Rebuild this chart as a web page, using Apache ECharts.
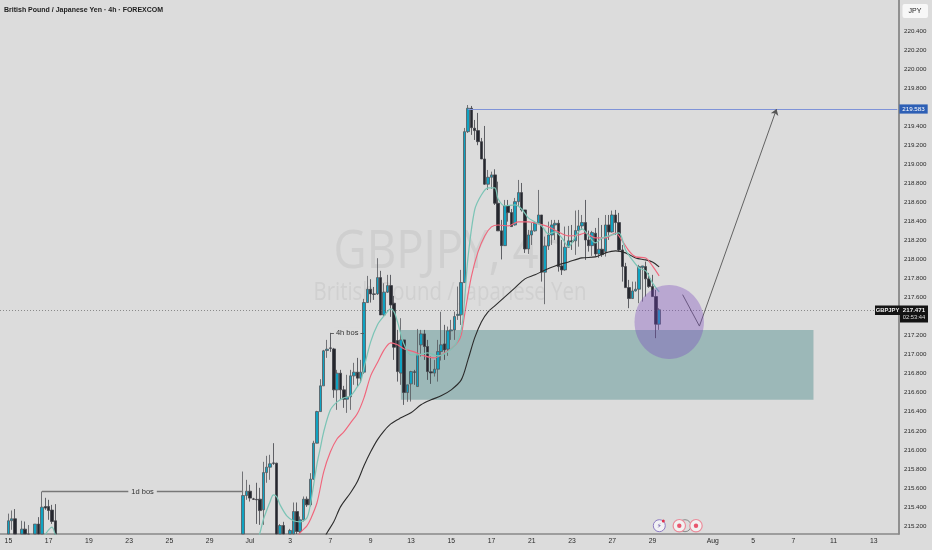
<!DOCTYPE html>
<html><head><meta charset="utf-8">
<style>html,body{margin:0;padding:0;background:#dcdcdc}#c{width:932px;height:550px}</style>
<script src="https://cdn.jsdelivr.net/npm/echarts@6/dist/echarts.min.js"></script>
</head><body><div id="c"></div>
<script>
const hidden = Array(55).fill(null); // bars 15-69 sit below the visible price range
const opens = [215.055,215.255,215.276,null,215.055,215.167,215.09,null,215.055,215.22,215.055,215.405,215.405,215.367,215.255,...hidden,
215.055,215.52,215.566,215.485,215.48,215.482,215.37,215.761,215.818,215.863,
215.86,215.055,215.205,null,215.055,215.055,215.352,215.142,215.265,215.482,
215.422,215.692,216.07,216.402,216.672,217.043,217.071,217.06,216.63,216.805,
216.63,216.532,216.557,216.777,216.816,216.753,216.816,217.547,217.687,217.638,
217.638,217.809,217.417,217.656,217.725,217.54,217.148,216.806,217.155,216.602,
216.693,216.819,216.665,217.103,217.218,217.085,216.819,216.806,216.847,217.032,
217.113,217.057,217.25,217.26,217.412,217.418,217.757,219.342,219.588,219.378,
219.353,219.237,219.055,218.79,218.863,218.888,218.59,218.3,218.145,218.562,
218.492,218.362,218.607,218.702,218.52,218.11,218.257,218.3,218.38,218.467,
217.866,218.142,218.257,218.362,218.38,217.932,217.89,218.128,218.195,218.195,
218.303,218.352,218.387,218.205,218.145,218.275,218.058,218.107,218.082,218.362,
218.289,218.467,218.387,218.1,217.925,217.704,217.589,217.669,217.687,217.916,
217.925,217.796,217.715,217.61,217.32];
const closes = [215.255,215.276,215.055,null,215.167,215.055,215.08,null,215.22,215.055,215.398,215.388,215.363,215.247,215.055,...hidden,
215.52,215.566,215.493,215.48,215.475,215.362,215.761,215.818,215.853,215.858,
215.055,215.205,215.055,null,215.153,215.352,215.142,215.265,215.482,215.422,
215.692,216.07,216.402,216.672,217.04,217.057,217.066,216.63,216.805,216.63,
216.532,216.553,216.777,216.816,216.753,216.816,217.547,217.687,217.638,217.633,
217.809,217.417,217.656,217.725,217.522,217.078,216.822,217.155,216.602,216.683,
216.822,216.814,216.998,217.218,217.085,216.822,216.808,216.847,217.032,217.103,
217.05,217.25,217.26,217.4,217.423,217.757,219.342,219.588,219.384,219.353,
219.237,219.055,218.79,218.863,218.888,218.59,218.3,218.145,218.562,218.492,
218.345,218.607,218.702,218.52,218.11,218.257,218.3,218.38,218.467,217.866,
218.142,218.257,218.362,218.38,217.925,217.89,218.128,218.195,218.184,218.303,
218.352,218.387,218.205,218.145,218.282,218.058,218.107,218.05,218.362,218.289,
218.467,218.387,218.1,217.925,217.704,217.589,217.669,217.687,217.925,217.932,
217.796,217.715,217.61,217.32,217.471];
const lows = [215.05,215.16,215.05,null,215.05,215.05,215.05,null,215.05,215.05,215.05,215.37,215.265,215.222,215.05,...hidden,
215.05,215.475,215.457,215.475,215.222,215.212,215.212,215.654,215.685,215.842,
215.05,215.05,215.05,null,215.05,215.05,215.05,215.086,215.247,215.4,
215.405,215.685,216.073,216.402,216.672,216.966,217.029,216.546,216.42,216.525,
216.441,216.388,216.42,216.683,216.662,216.704,216.798,217.544,217.547,217.575,
217.627,217.417,217.4,217.648,217.397,216.945,216.717,216.683,216.472,216.504,
216.507,216.683,216.665,216.98,216.945,216.735,216.693,216.77,216.717,216.938,
216.945,216.987,217.155,217.155,217.365,217.312,217.754,219.328,219.308,219.255,
219.2,219.055,218.783,218.73,218.741,218.572,218.3,218,218.142,218.397,
218.342,218.355,218.555,218.502,218.068,218.058,218.152,218.292,218.38,217.767,
217.53,218.1,218.152,218.205,217.872,217.837,217.88,218.12,218.1,218.048,
218.134,218.31,217.995,218.082,218.037,218.03,218.016,218.027,218.03,218.205,
218.282,218.257,218.082,217.767,217.701,217.488,217.586,217.662,217.54,217.557,
217.61,217.701,217.606,217.173,217.26];
const highs = [215.33,215.363,215.378,null,215.255,215.247,215.21,null,215.22,215.293,215.562,215.496,215.475,215.422,215.43,...hidden,
215.772,215.685,215.633,215.496,215.654,215.601,215.874,215.937,215.948,216.07,
215.864,215.22,215.244,null,215.17,215.447,215.447,215.3,215.51,215.51,
215.755,216.095,216.41,216.742,217.05,217.155,217.229,217.071,216.84,216.84,
216.672,216.788,216.84,216.914,216.966,216.945,217.586,217.827,217.792,217.711,
218.013,217.88,217.75,217.838,217.838,217.617,217.26,217.383,217.155,216.683,
216.83,216.84,217.27,217.26,217.26,217.155,216.98,216.945,217.155,217.45,
217.313,217.295,217.365,217.452,217.715,217.89,219.381,219.622,219.612,219.465,
219.539,219.276,219.402,218.94,218.922,218.947,218.817,218.415,218.625,218.625,
218.53,218.646,218.835,218.803,218.52,218.31,218.384,218.397,218.73,218.467,
218.24,218.397,218.415,218.415,218.415,218.205,218.345,218.352,218.362,218.513,
218.52,218.467,218.625,218.303,218.3,218.331,218.436,218.362,218.467,218.467,
218.513,218.52,218.489,218.152,217.964,217.785,217.767,217.767,217.943,217.932,
217.977,217.858,217.838,217.68,217.488];

const fastBars = [10,11,12,13,14,15,74,75,76,78,79,80,81,83,85,87,89,90,91,92,93,94,96,98,100,102,104,105,106,108,110,112,114,115,116,118,120,122,125,128,130,133,135,136,137,139,141,143,145,146,148,151,153,155,157,159,161,163,165,167,169,171,173,175,177,180,182,184,186,188,190,192,194];
const fastVals = [215.055,215.11,215.16,215.187,215.11,215.055,215.055,215.129,215.265,215.454,215.527,215.507,215.422,215.307,215.255,215.244,215.286,215.422,215.632,215.853,216.021,216.189,216.42,216.504,216.546,216.567,216.662,216.714,216.861,217.134,217.312,217.407,217.48,217.449,217.344,217.103,216.998,216.998,217.018,216.987,217.008,217.092,217.26,217.575,218.016,218.52,218.677,218.751,218.751,218.635,218.562,218.572,218.53,218.436,218.394,218.352,218.268,218.289,218.226,218.132,218.237,218.321,218.247,218.174,218.226,218.257,218.278,218.1,217.995,217.911,217.88,217.754,217.659];
const midBars = [86,87,89,90,92,94,96,98,100,102,104,106,108,110,112,114,116,118,121,124,127,130,132,134,135,136,138,140,142,144,146,149,152,155,158,161,164,167,170,172,175,178,181,183,185,187,190,192,194];
const midVals = [215.055,215.129,215.202,215.265,215.444,215.769,215.979,216.116,216.189,216.284,216.378,216.546,216.777,216.914,217.05,217.124,217.103,217.06,217.029,216.987,216.966,217.018,217.06,217.134,217.208,217.418,217.817,218.079,218.247,218.342,218.362,218.352,218.394,218.394,218.373,218.342,218.289,218.247,218.257,218.278,218.226,218.226,218.278,218.195,218.09,218.027,218.016,217.932,217.827];
const slowBars = [94,95,97,99,102,104,106,108,110,112,114,117,120,123,126,129,132,135,137,139,141,143,145,148,151,154,157,160,163,167,171,175,178,181,184,187,190,192,194];
const slowVals = [215.055,215.129,215.244,215.401,215.549,215.664,215.832,215.979,216.105,216.2,216.273,216.336,216.389,216.473,216.525,216.567,216.63,216.735,216.945,217.176,217.344,217.449,217.512,217.606,217.701,217.796,217.838,217.89,217.932,217.974,218.016,218.027,218.069,218.09,218.069,218.016,217.995,217.974,217.921];

const tickBars = [0,12,24,36,48,60,72,84,96,108,120,132,144,156,168,180,192,210,222,234,246,258];
const tickLabels = ['15','17','19','23','25','29','Jul','3','7','9','13','15','17','21','23','27','29','Aug','5','7','11','13'];
const priceTicks = [215.2,215.4,215.6,215.8,216,216.2,216.4,216.6,216.8,217,217.2,217.4,217.6,217.8,218,218.2,218.4,218.6,218.8,219,219.2,219.4,219.8,220,220.2,220.4];

const axisMin = 215.116, axisMax = 220.725;
const lastPrice = 217.471, targetPrice = 219.58;
const zoneTop = 217.26, zoneBottom = 216.525, zoneBars = [117, 240];
const dayBos = {price: 215.562, bars: [10, 70], text: '1d bos'};
const hourBos = {price: 217.229, bars: [96, 106], text: '4h bos'};
const pathBars = [201, 206, 229], pathPrices = [217.63, 217.30, 219.58];
const circleBar = 197, circlePrice = 217.344;

const pad = 2, barCount = 268;
const categories = Array.from({length: barCount}, (_, i) => String(i));
const FONT = '"Liberation Sans", Arial, sans-serif';
const BG = '#dcdcdc';
const atAxis = v => Math.max(v, axisMin);
const candleData = Array.from({length: barCount}, (_, k) => {
  const i = k - pad;
  if (i < 0 || i >= opens.length || opens[i] === null) return ['-','-','-','-'];
  return [atAxis(opens[i]), atAxis(closes[i]), atAxis(lows[i]), atAxis(highs[i])];
});
const zip = (b, v) => b.map((x, i) => [x + pad, v[i]]);
const ma = (name, b, v, color, w) => ({type:'line', name, data: zip(b, v), showSymbol:false, smooth:0.3, connectNulls:true, silent:true,
  lineStyle:{color, width:w}, z:3, clip:true});
// one helper series per drawn line, so each keeps its own stroke
const drawn = (name, a, b, lineStyle, label, endExtra) => ({type:'line', name, data:[], silent:true, z:4,
  markLine:{silent:true, animation:false, symbol:'none', z:4, lineStyle, label: label || {show:false},
    data:[[{coord:a, symbol:'none'}, Object.assign({coord:b, symbol:'none'}, endExtra || {})]]}});

const option = {
  animation:false, backgroundColor:BG,
  textStyle:{fontFamily:FONT},
  title:{text:'British Pound / Japanese Yen · 4h · FOREXCOM', left:4, top:7, padding:0, textStyle:{fontFamily:FONT, fontSize:7, fontWeight:'bold', color:'#222'}},
  grid:{left:0, right:33, top:0, bottom:16, containLabel:false},
  xAxis:{type:'category', data:categories, boundaryGap:true,
    axisLine:{lineStyle:{color:'#888', width:1.5}}, axisTick:{show:false}, splitLine:{show:false},
    axisLabel:{show:true, margin:4, fontSize:6.8, color:'#2a2a2a', fontFamily:FONT, hideOverlap:false,
      interval:(i)=>tickBars.includes(i-pad),
      formatter:(v,i)=>{const j=tickBars.indexOf(i-pad); return j<0?'':tickLabels[j];}}},
  yAxis:{type:'value', position:'right', min:axisMin, max:axisMax, scale:true,
    axisLine:{show:true, lineStyle:{color:'#777', width:1.5}}, axisTick:{show:false}, splitLine:{show:false},
    axisLabel:{show:true, customValues:priceTicks, inside:false, margin:5, fontSize:6.2, color:'#2a2a2a', fontFamily:FONT,
      showMinLabel:true, showMaxLabel:true,
      formatter:(v)=>Number(v).toFixed(3)}},
  graphic:[
    {type:'text', z:-10, silent:true, x:450, y:253, scaleX:0.86, style:{text:'GBPJPY, 4h', font:'53px "Open Sans", sans-serif', fill:'#cfcfcf', textAlign:'center', textVerticalAlign:'middle'}},
    {type:'text', z:-10, silent:true, x:450, y:293, scaleX:0.815, style:{text:'British Pound / Japanese Yen', font:'25px "Open Sans", sans-serif', fill:'#d0d0d0', textAlign:'center', textVerticalAlign:'middle'}},
    {type:'rect', z:20, shape:{x:902.5,y:4,width:25.5,height:14,r:2}, style:{fill:'#f7f7f7'}},
    {type:'text', z:21, x:915, y:11, style:{text:'JPY', font:'7px '+FONT, fill:'#222', textAlign:'center', textVerticalAlign:'middle'}},
    {type:'rect', z:20, shape:{x:875,y:305.5,width:25,height:9.5}, style:{fill:'#141414'}},
    {type:'text', z:21, x:887.5, y:310.4, style:{text:'GBPJPY', font:'bold 5.8px '+FONT, fill:'#eee', textAlign:'center', textVerticalAlign:'middle'}},
    {type:'rect', z:20, shape:{x:900,y:305.5,width:28,height:17}, style:{fill:'#141414'}},
    {type:'text', z:21, x:914, y:310.2, style:{text:'217.471', font:'bold 6.2px '+FONT, fill:'#eee', textAlign:'center', textVerticalAlign:'middle'}},
    {type:'text', z:21, x:914, y:317.6, style:{text:'02:53:44', font:'5.8px '+FONT, fill:'#ddd', textAlign:'center', textVerticalAlign:'middle'}},
    {type:'circle', z:20, shape:{cx:685,cy:525.7,r:6}, style:{fill:'none', stroke:'#555', lineWidth:0.6}},
    {type:'circle', z:21, shape:{cx:659.3,cy:525.7,r:6}, style:{fill:'#f1f1f4', stroke:'#8e7cc3', lineWidth:1}},
    {type:'text', z:22, x:659.3, y:526, style:{text:'⚡', font:'7px "DejaVu Sans"', fill:'#6a55a8', textAlign:'center', textVerticalAlign:'middle'}},
    {type:'circle', z:22, shape:{cx:663.3,cy:521,r:1.5}, style:{fill:'#e0324e'}},
    {type:'circle', z:21, shape:{cx:679.3,cy:525.7,r:6.2}, style:{fill:'#f1f1f1', stroke:'#ec8b9a', lineWidth:1.2}},
    {type:'circle', z:22, shape:{cx:679.3,cy:525.7,r:2.2}, style:{fill:'#e8566e'}},
    {type:'circle', z:21, shape:{cx:696,cy:525.7,r:6.2}, style:{fill:'#f1f1f1', stroke:'#ec8b9a', lineWidth:1.2}},
    {type:'circle', z:22, shape:{cx:696,cy:525.7,r:2.2}, style:{fill:'#e8566e'}}
  ],
  series:[
    {type:'candlestick', name:'GBPJPY', data:candleData, barWidth:3, clip:true, silent:true, z:2,
      itemStyle:{color:'#0fa3c2', color0:'#25272e', borderColor:'#55575c', borderColor0:'#3f4046', borderWidth:0.8},
      markArea:{silent:true, z:1, itemStyle:{color:'rgba(60,130,130,0.4)'},
        data:[[{coord:[zoneBars[0]+pad, zoneTop]},{coord:[zoneBars[1]+pad, zoneBottom]}]]},
      markLine:{silent:true, animation:false, symbol:'none', z:4,
        data:[{yAxis:lastPrice, lineStyle:{color:'#666', type:[1,2], width:0.7}, label:{show:false}}]}},
    ma('slow', slowBars, slowVals, '#2c2c2c', 1.1),
    ma('mid', midBars, midVals, '#f0667c', 1.15),
    ma('fast', fastBars, fastVals, '#7cc4b6', 1.25),
    drawn('target', [139, targetPrice], [barCount-1, targetPrice], {color:'#7f93d8', width:1.2, type:'solid'},
      {show:true, position:'end', distance:2, formatter:'219.583', color:'#fff', fontSize:6.2, fontFamily:FONT, backgroundColor:'#2d5fb5', padding:[1.6,3,1.6,3]}),
    drawn('1d bos', [dayBos.bars[0]+pad, dayBos.price], [dayBos.bars[1]+pad, dayBos.price], {color:'#777', width:1.3, type:'solid'},
      {show:true, position:'insideMiddle', distance:0, formatter:dayBos.text, color:'#333', fontSize:7.5, fontFamily:FONT, backgroundColor:BG, padding:[1,3]}),
    drawn('4h bos', [hourBos.bars[0]+pad, hourBos.price], [hourBos.bars[1]+pad, hourBos.price], {color:'#555', width:0.9, type:'solid'},
      {show:true, position:'insideMiddle', distance:0, formatter:hourBos.text, color:'#333', fontSize:7.5, fontFamily:FONT, backgroundColor:BG, padding:[1,2]}),
    drawn('path down', [pathBars[0]+pad, pathPrices[0]], [pathBars[1]+pad, pathPrices[1]], {color:'#555', width:0.9, type:'solid'}),
    drawn('path up', [pathBars[1]+pad, pathPrices[1]], [pathBars[2]+pad, pathPrices[2]], {color:'#555', width:0.9, type:'solid'}, null, {symbol:'arrow', symbolSize:6}),
    {type:'custom', name:'focus', coordinateSystem:'cartesian2d', silent:true, z:5, data:[[circleBar+pad, circlePrice]],
      renderItem:(p, api)=>{const c=api.coord([api.value(0), api.value(1)]);
        return {type:'ellipse', shape:{cx:c[0], cy:c[1], rx:34.7, ry:37}, style:{fill:'rgba(120,70,190,0.35)'}};}}
  ]
};
echarts.init(document.getElementById('c'), null, {renderer:'canvas'}).setOption(option);
</script></body></html>
